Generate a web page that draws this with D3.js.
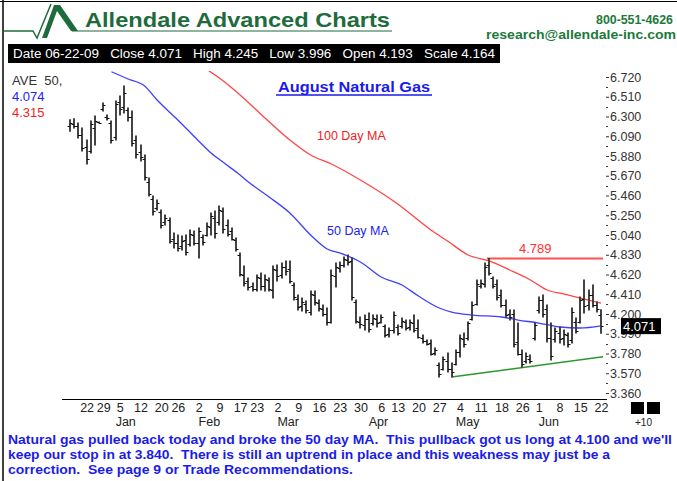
<!DOCTYPE html>
<html><head><meta charset="utf-8">
<script src="https://cdn.jsdelivr.net/npm/d3@7"></script>
<style>body{margin:0;background:#fff;} svg{display:block;font-family:"Liberation Sans",Arial,sans-serif;} text{white-space:pre;}</style>
</head><body><svg id="c" width="677" height="481"></svg>
<script>
// ---- data (trading-day index 0 = Dec 16 2008 ... 128 = Jun 22 2009) ----
const highs = [6.266,6.277,6.231,6.178,6.050,6.252,6.305,6.242,6.444,6.316,
 6.252,6.465,6.518,6.624,6.390,6.358,6.093,5.997,5.891,5.646,
 5.455,5.412,5.306,5.253,5.221,5.061,5.040,5.029,5.040,5.093,
 5.083,5.115,5.040,5.168,5.274,5.295,5.348,5.327,5.200,5.115,
 5.008,4.849,4.710,4.583,4.530,4.615,4.636,4.615,4.583,4.710,
 4.721,4.742,4.764,4.764,4.530,4.402,4.370,4.338,4.445,4.445,
 4.349,4.296,4.264,4.668,4.742,4.753,4.806,4.827,4.796,4.349,
 4.168,4.189,4.211,4.189,4.189,4.189,4.083,4.051,4.221,4.083,
 4.158,4.136,4.136,4.189,4.136,3.977,3.924,3.924,3.839,3.679,
 3.743,3.785,3.679,3.817,3.977,3.998,4.115,4.328,4.562,4.562,
 4.742,4.789,4.593,4.562,4.455,4.349,4.243,4.243,4.104,3.817,
 3.785,3.764,4.104,4.381,4.402,4.296,4.104,4.051,4.062,4.030,
 3.998,4.264,4.158,4.381,4.562,4.455,4.508,4.328,4.245];
const lows = [6.143,6.178,6.071,5.933,5.795,5.912,5.997,6.231,6.358,6.263,
 6.018,6.050,6.316,6.337,6.252,5.986,5.859,5.827,5.625,5.455,
 5.253,5.306,5.115,5.146,4.955,4.902,4.870,4.881,4.827,4.923,
 4.934,4.796,4.934,5.029,5.040,5.008,5.146,5.061,5.029,4.987,
 4.870,4.604,4.498,4.455,4.445,4.445,4.455,4.445,4.445,4.370,
 4.551,4.583,4.615,4.530,4.349,4.243,4.232,4.211,4.189,4.296,
 4.232,4.179,4.083,4.104,4.487,4.647,4.700,4.721,4.349,4.104,
 4.051,4.030,4.009,4.083,4.062,4.104,3.956,3.956,3.998,3.977,
 4.051,4.030,4.030,4.009,3.945,3.892,3.870,3.764,3.764,3.530,
 3.605,3.583,3.530,3.658,3.743,3.849,3.924,4.136,4.296,4.476,
 4.487,4.615,4.476,4.349,4.275,4.168,4.136,3.849,3.764,3.637,
 3.679,3.679,3.924,4.211,4.168,3.902,3.711,3.902,3.892,3.870,
 3.849,3.892,3.998,4.104,4.211,4.243,4.275,4.221,3.996];
const opens = [6.20,6.22,6.20,6.10,5.98,5.93,6.18,6.24,6.38,6.30,
 6.23,6.08,6.45,6.40,6.37,6.30,6.05,5.92,5.85,5.60,
 5.42,5.33,5.28,5.18,5.20,5.00,4.96,4.92,4.99,4.94,
 5.04,4.95,5.02,5.04,5.12,5.22,5.18,5.29,5.15,5.08,
 4.99,4.83,4.62,4.55,4.50,4.47,4.58,4.50,4.56,4.45,
 4.67,4.61,4.70,4.68,4.51,4.36,4.28,4.31,4.22,4.40,
 4.32,4.25,4.20,4.12,4.60,4.69,4.72,4.77,4.76,4.33,
 4.12,4.08,4.15,4.10,4.15,4.12,4.07,3.99,4.03,4.06,
 4.07,4.12,4.06,4.10,4.05,3.95,3.91,3.89,3.79,3.66,
 3.61,3.70,3.62,3.67,3.80,3.93,3.94,4.15,4.31,4.50,
 4.52,4.72,4.58,4.52,4.40,4.30,4.20,4.20,3.90,3.78,
 3.70,3.72,3.95,4.24,4.35,4.25,3.95,3.93,4.00,3.95,
 3.98,3.92,4.12,4.12,4.36,4.30,4.40,4.30,4.193];
const closes = [6.23,6.20,6.10,5.96,5.85,6.22,6.25,6.235,6.42,6.28,
 6.05,6.43,6.38,6.55,6.30,6.02,5.90,5.87,5.66,5.48,
 5.30,5.38,5.15,5.22,4.98,4.95,4.90,4.98,4.86,5.05,
 4.96,5.08,4.97,5.14,5.24,5.06,5.31,5.10,5.05,5.00,
 4.89,4.63,4.53,4.49,4.47,4.59,4.50,4.57,4.47,4.68,
 4.60,4.70,4.66,4.55,4.38,4.27,4.33,4.24,4.41,4.33,
 4.26,4.20,4.11,4.62,4.70,4.72,4.78,4.75,4.38,4.13,
 4.09,4.15,4.04,4.16,4.10,4.17,3.98,4.03,4.19,4.00,
 4.13,4.05,4.11,4.03,3.96,3.91,3.88,3.78,3.82,3.56,
 3.72,3.61,3.58,3.80,3.95,3.88,4.10,4.30,4.52,4.53,
 4.70,4.64,4.50,4.38,4.30,4.19,4.17,3.88,3.78,3.67,
 3.75,3.70,4.08,4.35,4.20,3.94,3.75,4.02,3.93,3.99,
 3.88,4.22,4.02,4.35,4.28,4.40,4.30,4.25,4.071];

const ma50Idx = [10,14,18,21,26,31,34,37,41,43,48,53,58,62,65,70,75,80,84,89,92,97,104,108,113,118,123,128];
const ma50Val = [6.776,6.699,6.624,6.475,6.263,6.040,5.912,5.810,5.678,5.604,5.444,5.274,5.040,4.891,4.849,4.753,4.593,4.508,4.391,4.264,4.221,4.189,4.168,4.136,4.104,4.062,4.051,4.074];
const ma100Idx = [33,36,41,47,53,58,63,70,79,87,91,96,101,106,111,115,119,124,128];
const ma100Val = [6.800,6.709,6.529,6.284,6.050,5.891,5.795,5.625,5.370,5.093,4.976,4.827,4.764,4.668,4.562,4.455,4.413,4.359,4.315];

const dayTickIdx = [4,8,12,17,22,26,31,36,41,45,50,55,60,65,70,75,79,84,89,94,99,104,109,113,118,123,128];
const dayTickLabels = ["22","29","5","12","20","26","2","9","17","23","2","9","16","23","30","6","13","20","27","4","11","18","26","1","8","15","22"];
const monthIdx = [11,31,50,72,93,113];
const monthLabels = ["Jan","Feb","Mar","Apr","May","Jun"];
const yTickVals = [3.36,3.57,3.78,3.99,4.20,4.41,4.62,4.83,5.04,5.25,5.46,5.67,5.88,6.09,6.30,6.51,6.72];

const resistanceVal = 4.789, resistanceIdx = [100.5, 128.5];
const trendIdx = [92, 128.5], trendVal = [3.530, 3.746];
const lastDate = "06-22-09", scaleVal = "4.164";
const ave50 = "4.074", ave100 = "4.315";
const comment = [
 "Natural gas pulled back today and broke the 50 day MA.  This pullback got us long at 4.100 and we'll",
 "keep our stop in at 3.840.  There is still an uptrend in place and this weakness may just be a",
 "correction.  See page 9 or Trade Recommendations."];

// ---- drawing ----
const svg = d3.select("#c");
const x = d3.scaleLinear().domain([0,128]).range([70,601]);
const y = d3.scaleLinear().domain([3.36,6.72]).range([393,77]);
const n = highs.length;

// borders
svg.append("line").attr("x1",3).attr("x2",3).attr("y1",0).attr("y2",481).attr("stroke","#000").attr("stroke-width",1.5);
svg.append("line").attr("x1",0).attr("x2",677).attr("y1",1.5).attr("y2",1.5).attr("stroke","#000").attr("stroke-width",1);

// logo
const green = "#1e6b3c";
svg.append("path").attr("d","M4,31 H33 L37,38 L51,4").attr("fill","none").attr("stroke",green).attr("stroke-width",1.5);
svg.append("path").attr("d","M42,38 L54,5 L60,5 L78,31 L71,31 L57,11 L47,38 Z").attr("fill",green);
svg.append("line").attr("x1",72).attr("x2",392).attr("y1",31).attr("y2",31).attr("stroke",green).attr("stroke-width",1.2);
svg.append("text").attr("x",85).attr("y",27).attr("font-size",21).attr("font-weight","bold")
  .attr("fill",green).attr("textLength",305).attr("lengthAdjust","spacingAndGlyphs").text("Allendale Advanced Charts");
svg.append("text").attr("x",673).attr("y",24).attr("text-anchor","end").attr("font-size",12.5).attr("font-weight","bold")
  .attr("fill","#1c7a3a").attr("textLength",77).attr("lengthAdjust","spacingAndGlyphs").text("800-551-4626");
svg.append("text").attr("x",676).attr("y",39).attr("text-anchor","end").attr("font-size",12.5).attr("font-weight","bold")
  .attr("fill","#1c7a3a").attr("textLength",190).attr("lengthAdjust","spacingAndGlyphs").text("research@allendale-inc.com");

// info bar
svg.append("rect").attr("x",8).attr("y",44).attr("width",492).attr("height",19).attr("fill","#000");
svg.append("text").attr("x",13).attr("y",58).attr("font-size",12.5).attr("fill","#fff")
  .attr("textLength",482).attr("lengthAdjust","spacingAndGlyphs")
  .text(`Date ${lastDate}   Close ${closes[n-1].toFixed(3)}   High ${highs[n-1].toFixed(3)}   Low ${lows[n-1].toFixed(3)}   Open ${opens[n-1].toFixed(3)}   Scale ${scaleVal}`);

// legend top-left
svg.append("text").attr("x",12).attr("y",85).attr("font-size",13).attr("fill","#333").text("AVE  50,");
svg.append("text").attr("x",12).attr("y",101).attr("font-size",13).attr("fill","#2222ee").text(ave50);
svg.append("text").attr("x",12).attr("y",117).attr("font-size",13).attr("fill","#ee2222").text(ave100);

// title
svg.append("text").attr("x",354).attr("y",92).attr("text-anchor","middle").attr("font-size",14.5)
  .attr("font-weight","bold").attr("fill","#1a1aee").attr("textLength",152).attr("lengthAdjust","spacingAndGlyphs").text("August Natural Gas");
svg.append("line").attr("x1",276).attr("x2",432).attr("y1",95).attr("y2",95).attr("stroke","#1a1aee").attr("stroke-width",1.3);

// clip
svg.append("clipPath").attr("id","plot").append("rect").attr("x",60).attr("y",71).attr("width",546).attr("height",329);
const plot = svg.append("g").attr("clip-path","url(#plot)");

const line = d3.line().x(d=>x(d[0])).y(d=>y(d[1])).curve(d3.curveMonotoneX);
plot.append("path").datum(ma100Idx.map((d,i)=>[d,ma100Val[i]])).attr("d",line)
  .attr("fill","none").attr("stroke","#ff3030").attr("stroke-width",1.3).attr("opacity",0.9);
plot.append("path").datum(ma50Idx.map((d,i)=>[d,ma50Val[i]])).attr("d",line)
  .attr("fill","none").attr("stroke","#2a2aff").attr("stroke-width",1.3).attr("opacity",0.9);

// resistance and trend
plot.append("line").attr("x1",x(resistanceIdx[0])).attr("x2",x(resistanceIdx[1])).attr("y1",y(resistanceVal)).attr("y2",y(resistanceVal))
  .attr("stroke","#ff5050").attr("stroke-width",2);
plot.append("line").attr("x1",x(trendIdx[0])).attr("x2",x(trendIdx[1])).attr("y1",y(trendVal[0])).attr("y2",y(trendVal[1]))
  .attr("stroke","#2f962f").attr("stroke-width",1.5);

// OHLC bars
const bars = plot.append("g").attr("stroke","#3a3a3a").attr("stroke-width",1.9);
d3.range(n).forEach(i=>{
  const cx = Math.round(x(i));
  bars.append("line").attr("x1",cx).attr("x2",cx).attr("y1",y(highs[i])-0.5).attr("y2",y(lows[i])+0.5);
  bars.append("line").attr("x1",cx-2.5).attr("x2",cx).attr("y1",Math.round(y(opens[i]))+0.5).attr("y2",Math.round(y(opens[i]))+0.5).attr("stroke-width",1).attr("stroke","#111");
  bars.append("line").attr("x1",cx).attr("x2",cx+2.5).attr("y1",Math.round(y(closes[i]))+0.5).attr("y2",Math.round(y(closes[i]))+0.5).attr("stroke-width",1).attr("stroke","#111");
});

// annotations
svg.append("text").attr("x",317).attr("y",140).attr("font-size",12.5).attr("fill","#ee2222").text("100 Day MA");
svg.append("text").attr("x",327).attr("y",235).attr("font-size",12.5).attr("fill","#2222ee").text("50 Day MA");
svg.append("text").attr("x",519).attr("y",253).attr("font-size",13).attr("fill","#ff3030").text(resistanceVal.toFixed(3));

// right axis
const ya = svg.append("g").attr("transform","translate(606,0)")
  .call(d3.axisRight(y).tickValues(yTickVals).tickSize(3).tickPadding(1).tickFormat(d3.format(".3f")));
ya.select(".domain").remove();
ya.selectAll("text").attr("font-size",12.5).attr("fill","#333").attr("font-family","Liberation Sans, Arial, sans-serif");
ya.selectAll("line").attr("stroke","#333");
svg.append("g").selectAll("line").data(yTickVals.slice(0,-1)).join("line")
  .attr("x1",606).attr("x2",608).attr("y1",d=>Math.round(y(d+0.105))+0.5).attr("y2",d=>Math.round(y(d+0.105))+0.5)
  .attr("stroke","#333");

// last value box (drawn over the axis labels, as in the original)
svg.append("rect").attr("x",621).attr("y",y(closes[n-1])-8).attr("width",40).attr("height",16).attr("fill","#000");
svg.append("text").attr("x",623).attr("y",y(closes[n-1])+5).attr("font-size",13).attr("fill","#fff").text(closes[n-1].toFixed(3));

// bottom axis
svg.append("line").attr("x1",62).attr("x2",607).attr("y1",399.5).attr("y2",399.5).attr("stroke","#000");
const xa = svg.append("g").attr("transform","translate(0,399)")
  .call(d3.axisBottom(x).tickValues(dayTickIdx).tickSize(0).tickPadding(4).tickFormat((d,i)=>dayTickLabels[i]));
xa.select(".domain").remove();
xa.selectAll("text").attr("font-size",12.5).attr("fill","#222").attr("font-family","Liberation Sans, Arial, sans-serif");
svg.append("g").selectAll("text").data(monthIdx).join("text")
  .attr("x",d=>x(d)).attr("y",426).attr("font-size",12.5).attr("fill","#222").text((d,i)=>monthLabels[i]);
svg.append("rect").attr("x",631).attr("y",402).attr("width",13).attr("height",12).attr("fill","#000");
svg.append("rect").attr("x",647).attr("y",402).attr("width",13).attr("height",12).attr("fill","#000");
svg.append("text").attr("x",635).attr("y",426).attr("font-size",10).attr("fill","#222").text("+10");

// comment
svg.append("g").selectAll("text").data(comment).join("text")
  .attr("x",8).attr("y",(d,i)=>444+i*15).attr("font-size",12.5).attr("font-weight","bold").attr("fill","#1c1ce8")
  .attr("textLength",(d,i)=>[664,602,345][i]).attr("lengthAdjust","spacingAndGlyphs").text(d=>d);
</script></body></html>
